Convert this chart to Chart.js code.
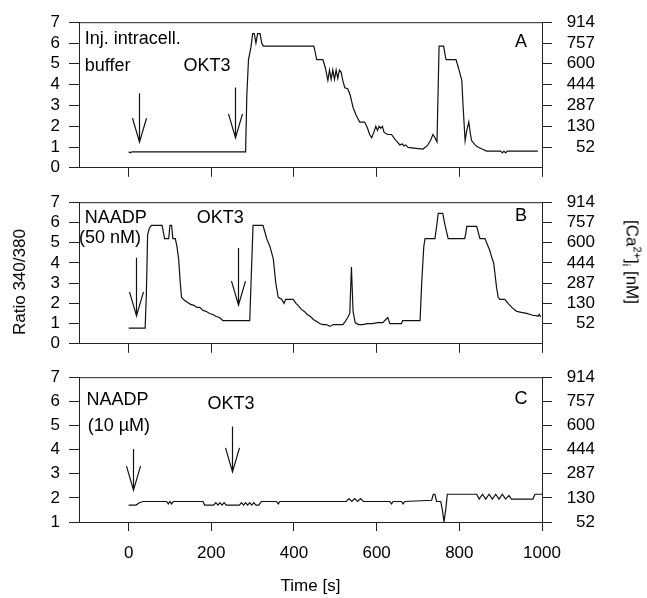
<!DOCTYPE html>
<html><head><meta charset="utf-8">
<script src="https://cdn.jsdelivr.net/npm/chart.js@4"></script>
<style>
html,body{margin:0;padding:0;background:#fff;}
#wrap{position:relative;width:647px;height:598px;overflow:hidden;font-family:'Liberation Sans',Arial,sans-serif;color:#000;}
.pc{position:absolute;left:0;width:647px;}
#ylab{position:absolute;left:20px;top:282px;transform:translate(-50%,-50%) rotate(-90deg);white-space:nowrap;font-size:17px;}
#y2lab{position:absolute;left:632px;top:262px;transform:translate(-50%,-50%) rotate(90deg);white-space:nowrap;font-size:17px;}
#y2lab sup,#y2lab sub{font-size:11px;}
</style></head>
<body>
<div id="wrap">
  <div class="pc" style="top:0;height:190px;"><canvas id="cA" width="647" height="190"></canvas></div>
  <div class="pc" style="top:180px;height:186px;"><canvas id="cB" width="647" height="186"></canvas></div>
  <div class="pc" style="top:355px;height:243px;"><canvas id="cC" width="647" height="243"></canvas></div>
  <div id="ylab">Ratio 340/380</div>
  <div id="y2lab">[Ca<sup>2+</sup>]<sub>i</sub> [nM]</div>
</div>
<script>
// ---- data ----
const timeA = [0, 4, 8, 12, 283, 286, 290, 296, 300, 304, 308, 312, 318, 322, 326, 448, 452, 455, 470, 476, 482, 486, 490, 494, 498, 502, 506, 510, 514, 518, 523, 530, 536, 543, 551, 559, 571, 578, 583, 588, 594, 598, 602, 606, 610, 614, 618, 627, 636, 645, 650, 656, 662, 666, 670, 676, 690, 712, 722, 730, 736, 741, 746, 749, 751, 762, 765, 768, 792, 798, 806, 809, 814, 818, 823, 827, 830, 838, 845, 855, 866, 900, 904, 908, 912, 916, 990];
const ratioA = [0.77, 0.72, 0.77, 0.77, 0.77, 3.5, 5.2, 5.8, 6.45, 6.45, 6.0, 6.45, 6.45, 6.0, 5.85, 5.85, 5.5, 5.2, 5.2, 4.8, 4.2, 4.7, 4.25, 4.7, 4.25, 4.7, 4.3, 4.7, 4.6, 4.2, 3.85, 3.8, 3.5, 2.9, 2.5, 2.2, 2.2, 1.9, 1.6, 1.45, 1.75, 2.0, 1.8, 2.0, 1.9, 2.0, 1.7, 1.6, 1.6, 1.35, 1.25, 1.1, 1.15, 1.05, 1.1, 0.98, 0.95, 0.9, 1.05, 1.3, 1.6, 1.45, 1.25, 4.0, 5.85, 5.85, 5.5, 5.2, 5.2, 4.8, 4.2, 3.0, 1.3, 1.8, 2.2, 1.6, 1.3, 1.1, 1.0, 0.9, 0.8, 0.8, 0.72, 0.8, 0.72, 0.8, 0.8];

const timeB = [0, 40, 43, 46, 50, 55, 81, 87, 97, 100, 104, 107, 113, 117, 121, 125, 128, 135, 142, 150, 158, 165, 172, 180, 188, 196, 204, 212, 220, 228, 293, 297, 301, 325, 330, 334, 342, 350, 356, 362, 370, 376, 380, 385, 398, 405, 412, 418, 425, 432, 440, 447, 455, 462, 470, 478, 487, 495, 505, 518, 524, 530, 535, 539, 543, 548, 556, 566, 578, 590, 602, 615, 622, 627, 632, 645, 660, 663, 705, 709, 714, 717, 741, 745, 749, 760, 765, 773, 813, 816, 818, 842, 846, 850, 862, 868, 874, 878, 883, 886, 890, 894, 898, 910, 918, 927, 933, 939, 950, 963, 972, 979, 986, 990, 993, 997];
const ratioB = [0.77, 0.77, 2.5, 5.4, 5.7, 5.85, 5.85, 5.2, 5.2, 5.85, 5.85, 5.2, 5.2, 4.8, 4.2, 3.0, 2.3, 2.15, 2.05, 1.95, 1.9, 1.8, 1.8, 1.65, 1.6, 1.5, 1.45, 1.35, 1.3, 1.15, 1.15, 3.5, 5.85, 5.85, 5.5, 5.2, 4.8, 4.2, 3.0, 2.3, 2.2, 2.0, 2.2, 2.2, 2.2, 2.0, 1.85, 1.7, 1.6, 1.45, 1.35, 1.2, 1.1, 1.0, 0.95, 0.95, 0.86, 0.95, 0.95, 0.95, 1.1, 1.3, 1.5, 3.8, 1.6, 1.05, 0.95, 0.95, 1.0, 1.0, 1.05, 1.05, 1.2, 1.3, 1.0, 1.0, 1.0, 1.15, 1.15, 3.0, 4.8, 5.2, 5.2, 5.8, 6.45, 6.45, 5.9, 5.2, 5.2, 5.5, 5.8, 5.8, 5.5, 5.2, 5.2, 4.9, 4.6, 4.3, 4.0, 3.5, 2.8, 2.3, 2.2, 2.2, 2.0, 1.8, 1.7, 1.6, 1.55, 1.5, 1.45, 1.4, 1.4, 1.35, 1.45, 1.33];

const timeC = [0, 18, 26, 35, 92, 96, 100, 104, 108, 112, 180, 184, 206, 211, 216, 221, 226, 231, 236, 268, 273, 278, 283, 288, 293, 298, 303, 308, 315, 321, 358, 362, 366, 527, 533, 540, 547, 554, 561, 568, 632, 636, 640, 660, 664, 668, 733, 737, 741, 745, 755, 759, 763, 767, 771, 842, 848, 856, 864, 872, 880, 888, 896, 904, 912, 920, 926, 978, 983, 1000];
const ratioC = [1.7, 1.7, 1.8, 1.85, 1.85, 1.75, 1.85, 1.75, 1.85, 1.85, 1.85, 1.7, 1.7, 1.8, 1.7, 1.8, 1.7, 1.8, 1.7, 1.7, 1.8, 1.7, 1.8, 1.7, 1.8, 1.7, 1.8, 1.7, 1.7, 1.85, 1.85, 1.75, 1.85, 1.85, 1.97, 1.85, 1.97, 1.85, 1.97, 1.85, 1.85, 1.75, 1.85, 1.85, 1.75, 1.85, 1.9, 2.15, 2.15, 1.85, 1.85, 1.5, 1.0, 1.5, 2.15, 2.15, 1.95, 2.15, 1.95, 2.15, 1.95, 2.15, 1.95, 2.15, 1.95, 2.1, 1.95, 1.95, 2.15, 2.15];

const timeTicks = [0, 200, 400, 600, 800, 1000];
const ratioTicksAB = [0, 1, 2, 3, 4, 5, 6, 7];
const ratioTicksC = [1, 2, 3, 4, 5, 6, 7];
const caTickRatios = [1, 2, 3, 4, 5, 6, 7];
const caTickLabels = ['52', '130', '287', '444', '600', '757', '914'];

// ---- annotations (data coordinates) ----
const notesA = [
  {text: 'Inj. intracell.', t: -106, r: 6.18, align: 'left'},
  {text: 'buffer', t: -106, r: 4.9, align: 'left'},
  {text: 'OKT3', t: 133, r: 4.9, align: 'left'},
  {text: 'A', t: 949, r: 6.05, align: 'center'}
];
const arrowsA = [{t: 24, from: 3.58, to: 1.23}, {t: 257, from: 3.86, to: 1.44}];
const notesB = [
  {text: 'NAADP', t: -106, r: 6.23, align: 'left'},
  {text: '(50 nM)', t: -120, r: 5.23, align: 'left'},
  {text: 'OKT3', t: 165, r: 6.23, align: 'left'},
  {text: 'B', t: 949, r: 6.32, align: 'center'}
];
const arrowsB = [{t: 17, from: 4.26, to: 1.38}, {t: 265, from: 4.74, to: 1.91}];
const notesC = [
  {text: 'NAADP', t: -102, r: 6.06, align: 'left'},
  {text: '(10 \u00b5M)', t: -99, r: 4.96, align: 'left'},
  {text: 'OKT3', t: 191, r: 5.9, align: 'left'},
  {text: 'C', t: 949, r: 6.1, align: 'center'}
];
const arrowsC = [{t: 10.5, from: 4.02, to: 2.32}, {t: 251, from: 4.96, to: 3.08}];

Chart.defaults.font.family = "'Liberation Sans', Arial, Helvetica, sans-serif";
Chart.defaults.font.size = 17;
Chart.defaults.color = '#000';

const FONT = "18px 'Liberation Sans', Arial, Helvetica, sans-serif";

const annotPlugin = {
  id: 'annot',
  afterDatasetsDraw(chart, args, opts) {
    const ctx = chart.ctx;
    const xs = chart.scales.x, ys = chart.scales.y;
    const a = chart.chartArea;
    ctx.save();
    // top frame
    ctx.strokeStyle = '#222';
    ctx.lineWidth = 1;
    ctx.beginPath();
    ctx.moveTo(a.left, a.top + 0.5);
    ctx.lineTo(a.right, a.top + 0.5);
    ctx.stroke();
    // arrows
    ctx.strokeStyle = '#111';
    ctx.lineWidth = 1.2;
    (opts.arrows || []).forEach(ar => {
      const px = Math.round(xs.getPixelForValue(ar.t)) + 0.5;
      const y0 = ys.getPixelForValue(ar.from);
      const y1 = ys.getPixelForValue(ar.to);
      ctx.beginPath();
      ctx.moveTo(px, y0); ctx.lineTo(px, y1);
      ctx.moveTo(px - 7, y1 - 24); ctx.lineTo(px, y1); ctx.lineTo(px + 7, y1 - 24);
      ctx.stroke();
    });
    // texts
    ctx.fillStyle = '#000';
    ctx.font = FONT;
    ctx.textBaseline = 'middle';
    (opts.notes || []).forEach(n => {
      ctx.textAlign = n.align;
      ctx.fillText(n.text, xs.getPixelForValue(n.t), ys.getPixelForValue(n.r));
    });
    ctx.restore();
  }
};

function makePanel(id, times, ratios, yMin, yTicks, notes, arrows, padTop, xHeight, showX) {
  const pts = times.map((t, i) => ({x: t, y: ratios[i]}));
  const tickGrid = {display: true, drawOnChartArea: false, drawTicks: true, color: '#222', lineWidth: 1};
  return new Chart(document.getElementById(id), {
    type: 'line',
    data: {datasets: [{data: pts, borderColor: '#111', borderWidth: 1.2, pointRadius: 0, tension: 0, fill: false}]},
    plugins: [annotPlugin],
    options: {
      responsive: false,
      animation: false,
      events: [],
      layout: {padding: {top: padTop, left: 0, right: 52, bottom: 0}},
      plugins: {legend: {display: false}, tooltip: {enabled: false}, annot: {notes: notes, arrows: arrows}},
      scales: {
        x: {
          type: 'linear', min: -120, max: 1000,
          afterBuildTicks: s => { s.ticks = timeTicks.map(v => ({value: v})); },
          ticks: {display: showX, padding: 12, maxRotation: 0, autoSkip: false, font: {size: 17},
                  callback: v => String(v)},
          grid: Object.assign({}, tickGrid, {tickLength: 9}),
          border: {display: true, color: '#222', width: 1},
          title: {display: showX, text: 'Time [s]', font: {size: 17}, padding: {top: 4, bottom: 1}},
          afterFit: s => { s.height = xHeight; }
        },
        y: {
          type: 'linear', position: 'left', min: yMin, max: 7,
          afterBuildTicks: s => { s.ticks = yTicks.map(v => ({value: v})); },
          ticks: {padding: 9, autoSkip: false, font: {size: 17}, callback: v => String(v)},
          grid: Object.assign({}, tickGrid, {tickLength: 10}),
          border: {display: true, color: '#222', width: 1},
          afterFit: s => { s.width = 79; }
        },
        y2: {
          type: 'linear', position: 'right', min: yMin, max: 7,
          afterBuildTicks: s => { s.ticks = caTickRatios.map(v => ({value: v})); },
          ticks: {padding: 12, autoSkip: false, crossAlign: 'far', font: {size: 17},
                  callback: v => caTickLabels[caTickRatios.indexOf(v)]},
          grid: Object.assign({}, tickGrid, {tickLength: 10}),
          border: {display: true, color: '#222', width: 1},
          afterFit: s => { s.width = 53; }
        }
      }
    }
  });
}

makePanel('cA', timeA, ratioA, 0, ratioTicksAB, notesA, arrowsA, 17, 19, false);
makePanel('cB', timeB, ratioB, 0, ratioTicksAB, notesB, arrowsB, 13, 19, false);
makePanel('cC', timeC, ratioC, 1, ratioTicksC, notesC, arrowsC, 14, 76, true);
</script>
</body></html>
